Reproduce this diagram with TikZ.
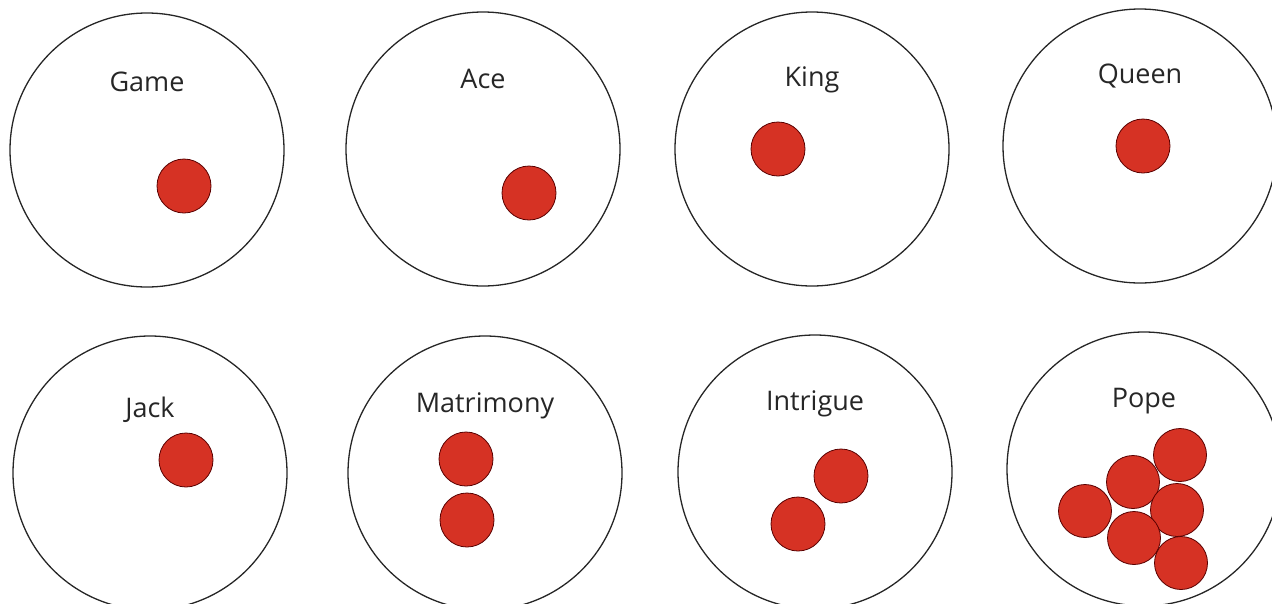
\documentclass[tikz,border=0pt]{standalone}
\usepackage{fontspec}
\setmainfont{Open Sans}
\usepackage{xcolor}
\definecolor{pipred}{RGB}{214,50,36}

\begin{document}
\begin{tikzpicture}[x=1pt,y=-1pt,
  card/.style={circle,draw=black!85,line width=1.3pt,minimum size=274pt,inner sep=0pt},
  pip/.style={circle,draw=red!35!black,line width=0.8pt,fill=pipred,minimum size=54pt,inner sep=0pt},
  lbl/.style={anchor=base,font=\fontsize{27}{30}\selectfont,text=black!85}]
  \useasboundingbox (0,0) rectangle (1272,603);
  % the eight cards with their names
  \foreach \n/\x/\y/\t/\b in {game/147/150/Game/91,ace/483/149/Ace/88,
      king/812/149/King/86,queen/1140/146/Queen/83,
      jack/150/473/Jack/417,matri/485/473/Matrimony/412,
      intri/815/472/Intrigue/410,pope/1144/469/Pope/407}
  {
    \node[card] (\n) at (\x,\y) {};
    \node[lbl] (\n-lbl) at (\x,\b) {\t};
  }
  % pips
  \node[pip] (game-p) at (184,186) {};
  \node[pip] (ace-p) at (529,193) {};
  \node[pip] (king-p) at (778,149) {};
  \node[pip] (queen-p) at (1143,146) {};
  \node[pip] (jack-p) at (186,460) {};
  \node[pip] (matri-p1) at (466,459) {};
  \node[pip] (matri-p2) at (467,520) {};
  \node[pip] (intri-p1) at (841,476) {};
  \node[pip] (intri-p2) at (798,524) {};
  \foreach \i/\x/\y in {1/1085/511,2/1180/455,3/1133/482,4/1177/510,5/1134/538,6/1181/563}
    \node[pip,minimum size=53pt] (pope-p\i) at (\x,\y) {};
\end{tikzpicture}
\end{document}
